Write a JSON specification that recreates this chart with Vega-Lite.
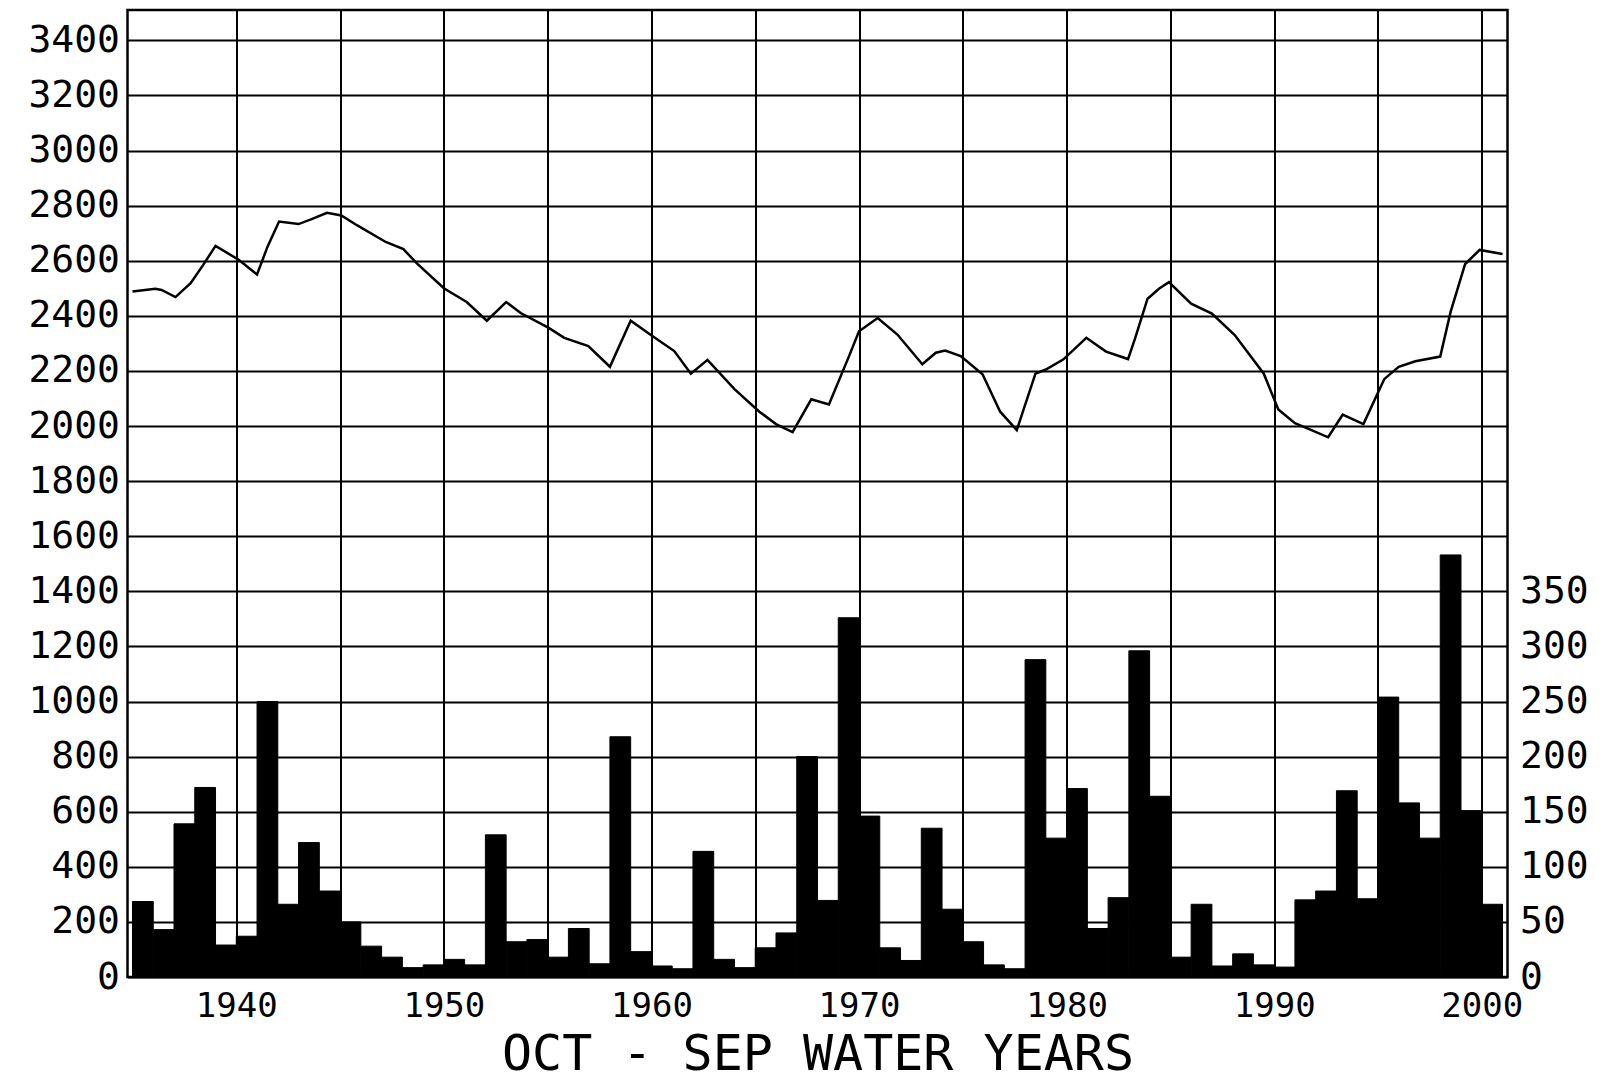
{
  "$schema": "https://vega.github.io/schema/vega-lite/v6.json",
  "width": 1380,
  "height": 967,
  "autosize": {"type": "none"},
  "padding": {"left": 127.5, "top": 10, "right": 105.5, "bottom": 106},
  "background": "white",
  "config": {
    "view": {"stroke": "black", "strokeWidth": 2.5},
    "axis": {"labelColor": "black", "labelFont": "DejaVu Sans Mono", "titleColor": "black"}
  },
  "datasets": {
    "flow": [
      {"start": 1935, "end": 1936, "flow": 68.5}, {"start": 1936, "end": 1937, "flow": 43},
      {"start": 1937, "end": 1938, "flow": 139}, {"start": 1938, "end": 1939, "flow": 172},
      {"start": 1939, "end": 1940, "flow": 29}, {"start": 1940, "end": 1941, "flow": 37},
      {"start": 1941, "end": 1942, "flow": 250}, {"start": 1942, "end": 1943, "flow": 66},
      {"start": 1943, "end": 1944, "flow": 122}, {"start": 1944, "end": 1945, "flow": 78},
      {"start": 1945, "end": 1946, "flow": 50}, {"start": 1946, "end": 1947, "flow": 28},
      {"start": 1947, "end": 1948, "flow": 18}, {"start": 1948, "end": 1949, "flow": 8.5},
      {"start": 1949, "end": 1950, "flow": 11}, {"start": 1950, "end": 1951, "flow": 16},
      {"start": 1951, "end": 1952, "flow": 11}, {"start": 1952, "end": 1953, "flow": 129},
      {"start": 1953, "end": 1954, "flow": 32}, {"start": 1954, "end": 1955, "flow": 34},
      {"start": 1955, "end": 1956, "flow": 18}, {"start": 1956, "end": 1957, "flow": 44},
      {"start": 1957, "end": 1958, "flow": 12}, {"start": 1958, "end": 1959, "flow": 218},
      {"start": 1959, "end": 1960, "flow": 23}, {"start": 1960, "end": 1961, "flow": 10},
      {"start": 1961, "end": 1962, "flow": 7.5}, {"start": 1962, "end": 1963, "flow": 114},
      {"start": 1963, "end": 1964, "flow": 16}, {"start": 1964, "end": 1965, "flow": 8.5},
      {"start": 1965, "end": 1966, "flow": 26.5}, {"start": 1966, "end": 1967, "flow": 40},
      {"start": 1967, "end": 1968, "flow": 200}, {"start": 1968, "end": 1969, "flow": 69.5},
      {"start": 1969, "end": 1970, "flow": 326}, {"start": 1970, "end": 1971, "flow": 146},
      {"start": 1971, "end": 1972, "flow": 26.5}, {"start": 1972, "end": 1973, "flow": 15},
      {"start": 1973, "end": 1974, "flow": 135}, {"start": 1974, "end": 1975, "flow": 61.5},
      {"start": 1975, "end": 1976, "flow": 32}, {"start": 1976, "end": 1977, "flow": 11},
      {"start": 1977, "end": 1978, "flow": 7.5}, {"start": 1978, "end": 1979, "flow": 288},
      {"start": 1979, "end": 1980, "flow": 126}, {"start": 1980, "end": 1981, "flow": 171},
      {"start": 1981, "end": 1982, "flow": 44}, {"start": 1982, "end": 1983, "flow": 72},
      {"start": 1983, "end": 1984, "flow": 296}, {"start": 1984, "end": 1985, "flow": 164},
      {"start": 1985, "end": 1986, "flow": 18}, {"start": 1986, "end": 1987, "flow": 66},
      {"start": 1987, "end": 1988, "flow": 10}, {"start": 1988, "end": 1989, "flow": 21},
      {"start": 1989, "end": 1990, "flow": 11}, {"start": 1990, "end": 1991, "flow": 9},
      {"start": 1991, "end": 1992, "flow": 70}, {"start": 1992, "end": 1993, "flow": 78},
      {"start": 1993, "end": 1994, "flow": 169}, {"start": 1994, "end": 1995, "flow": 71},
      {"start": 1995, "end": 1996, "flow": 254}, {"start": 1996, "end": 1997, "flow": 158},
      {"start": 1997, "end": 1998, "flow": 126}, {"start": 1998, "end": 1999, "flow": 383},
      {"start": 1999, "end": 2000, "flow": 151}, {"start": 2000, "end": 2001, "flow": 66}
    ],
    "level": [
      {"year": 1935.0, "elev": 2488}, {"year": 1936.1, "elev": 2498}, {"year": 1936.4, "elev": 2494},
      {"year": 1937.07, "elev": 2468}, {"year": 1937.8, "elev": 2518}, {"year": 1938.4, "elev": 2584},
      {"year": 1939.0, "elev": 2654}, {"year": 1940.1, "elev": 2604}, {"year": 1941.0, "elev": 2550},
      {"year": 1941.5, "elev": 2650}, {"year": 1942.06, "elev": 2742}, {"year": 1943.0, "elev": 2733},
      {"year": 1943.6, "elev": 2750}, {"year": 1944.37, "elev": 2774}, {"year": 1945.06, "elev": 2764},
      {"year": 1945.83, "elev": 2728}, {"year": 1947.2, "elev": 2668}, {"year": 1948.05, "elev": 2642},
      {"year": 1948.7, "elev": 2590}, {"year": 1950.0, "elev": 2500}, {"year": 1951.1, "elev": 2450},
      {"year": 1952.07, "elev": 2382}, {"year": 1953.0, "elev": 2450}, {"year": 1953.7, "elev": 2410},
      {"year": 1955.05, "elev": 2356}, {"year": 1955.8, "elev": 2320}, {"year": 1956.96, "elev": 2290},
      {"year": 1958.0, "elev": 2215}, {"year": 1959.0, "elev": 2382}, {"year": 1960.06, "elev": 2326},
      {"year": 1961.1, "elev": 2272}, {"year": 1961.9, "elev": 2190}, {"year": 1962.7, "elev": 2240},
      {"year": 1964.0, "elev": 2134}, {"year": 1965.2, "elev": 2052}, {"year": 1966.0, "elev": 2007},
      {"year": 1966.8, "elev": 1978}, {"year": 1967.7, "elev": 2097}, {"year": 1968.55, "elev": 2078},
      {"year": 1969.5, "elev": 2250}, {"year": 1970.0, "elev": 2344}, {"year": 1970.9, "elev": 2392},
      {"year": 1971.85, "elev": 2332}, {"year": 1973.05, "elev": 2224}, {"year": 1973.7, "elev": 2266},
      {"year": 1974.15, "elev": 2274}, {"year": 1974.9, "elev": 2254}, {"year": 1975.95, "elev": 2188},
      {"year": 1976.8, "elev": 2052}, {"year": 1977.6, "elev": 1985}, {"year": 1978.5, "elev": 2190},
      {"year": 1979.0, "elev": 2205}, {"year": 1979.85, "elev": 2242}, {"year": 1980.95, "elev": 2320},
      {"year": 1981.9, "elev": 2270}, {"year": 1982.96, "elev": 2243}, {"year": 1983.3, "elev": 2318},
      {"year": 1983.9, "elev": 2462}, {"year": 1984.45, "elev": 2498}, {"year": 1984.93, "elev": 2522},
      {"year": 1986.0, "elev": 2444}, {"year": 1987.0, "elev": 2408}, {"year": 1988.1, "elev": 2330},
      {"year": 1989.5, "elev": 2190}, {"year": 1990.2, "elev": 2060}, {"year": 1991.0, "elev": 2010},
      {"year": 1991.8, "elev": 1985}, {"year": 1992.6, "elev": 1959}, {"year": 1993.3, "elev": 2041},
      {"year": 1994.3, "elev": 2007}, {"year": 1995.3, "elev": 2170}, {"year": 1996.0, "elev": 2215},
      {"year": 1996.8, "elev": 2235}, {"year": 1998.0, "elev": 2252}, {"year": 1998.5, "elev": 2414},
      {"year": 1999.2, "elev": 2588}, {"year": 1999.9, "elev": 2639}, {"year": 2001.0, "elev": 2624}
    ]
  },
  "layer": [
    {
      "data": {"name": "flow"},
      "mark": {"type": "bar", "color": "black", "stroke": "black", "strokeWidth": 1, "orient": "vertical"},
      "encoding": {
        "x": {
          "field": "start", "type": "quantitative",
          "scale": {"domain": [1935, 2001], "nice": false, "zero": false},
          "axis": {
            "values": [1940, 1945, 1950, 1955, 1960, 1965, 1970, 1975, 1980, 1985, 1990, 1995, 2000],
            "format": "d",
            "labelExpr": "datum.value % 10 === 0 ? datum.label : ''",
            "grid": true, "gridColor": "black", "gridWidth": 2, "gridOpacity": 1,
            "ticks": false, "domain": false,
            "labelFontSize": 34, "labelPadding": 12, "labelFlush": false, "labelOverlap": false,
            "title": "OCT - SEP WATER YEARS",
            "titleFont": "DejaVu Sans Mono", "titleFontSize": 50, "titleFontWeight": "normal",
            "titlePadding": 6
          }
        },
        "x2": {"field": "end"},
        "y": {
          "field": "flow", "type": "quantitative",
          "scale": {"domain": [0, 877.5], "nice": false},
          "axis": {
            "orient": "right",
            "values": [0, 50, 100, 150, 200, 250, 300, 350],
            "format": "d",
            "grid": false, "ticks": false, "domain": false,
            "labelFontSize": 38, "labelPadding": 12, "title": null
          }
        },
        "y2": {"datum": 0}
      }
    },
    {
      "data": {"name": "level"},
      "mark": {"type": "line", "color": "black", "strokeWidth": 2.5},
      "encoding": {
        "x": {"field": "year", "type": "quantitative"},
        "y": {
          "field": "elev", "type": "quantitative",
          "scale": {"domain": [0, 3510], "nice": false},
          "axis": {
            "orient": "left",
            "values": [0, 200, 400, 600, 800, 1000, 1200, 1400, 1600, 1800, 2000, 2200, 2400, 2600, 2800, 3000, 3200, 3400],
            "format": "d",
            "grid": true, "gridColor": "black", "gridWidth": 2, "gridOpacity": 1,
            "ticks": false, "domain": false,
            "labelFontSize": 38, "labelPadding": 8, "title": null
          }
        }
      }
    }
  ],
  "resolve": {"scale": {"y": "independent"}, "axis": {"y": "independent"}}
}
